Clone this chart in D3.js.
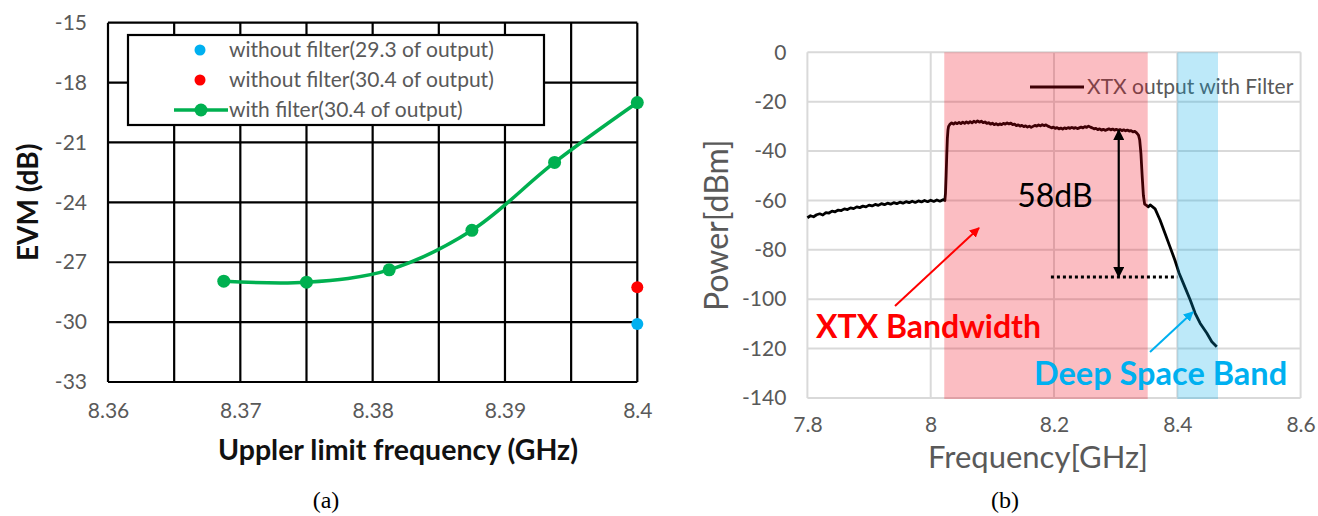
<!DOCTYPE html>
<html>
<head>
<meta charset="utf-8">
<script src="https://cdn.jsdelivr.net/npm/d3@7"></script>
<style>
  html, body { margin: 0; padding: 0; background: #fff; }
  svg { display: block; }
  text { font-family: Lato, "Open Sans", sans-serif; }
</style>
</head>
<body>
<svg id="fig" width="1318" height="516"></svg>
<script>
// ---------- (a) EVM versus upper limit frequency ----------
const evmFreq = [8.36875, 8.375, 8.38125, 8.3875, 8.39375, 8.4];
const evmWithFilter = [-27.95, -28.0, -27.38, -25.4, -22.0, -19.0];
const noFilterFreq = [8.4, 8.4];
const noFilterEvm = [-30.1, -28.25];
const noFilterColors = ["#00B0F0", "#FF0000"];
const legendA = [
  "without filter(29.3 of output)",
  "without filter(30.4 of output)",
  "with filter(30.4 of output)"
];
const ticksAx = [8.36, 8.37, 8.38, 8.39, 8.4];
const ticksAy = [-15, -18, -21, -24, -27, -30, -33];

// ---------- (b) spectrum of the XTX output ----------
const specFreq = [
  7.800, 7.805, 7.810, 7.815, 7.820, 7.825, 7.830, 7.835, 7.840, 7.845,
  7.850, 7.855, 7.860, 7.865, 7.870, 7.875, 7.880, 7.885, 7.890, 7.895,
  7.900, 7.905, 7.910, 7.915, 7.920, 7.925, 7.930, 7.935, 7.940, 7.945,
  7.950, 7.955, 7.960, 7.965, 7.970, 7.975, 7.980, 7.985, 7.990, 7.995,
  8.000, 8.005, 8.010, 8.015, 8.020, 8.023, 8.024, 8.025, 8.026, 8.027,
  8.028, 8.029, 8.031, 8.034, 8.037, 8.040, 8.043, 8.046, 8.049, 8.052,
  8.055, 8.058, 8.061, 8.064, 8.067, 8.070, 8.073, 8.076, 8.079, 8.082,
  8.085, 8.088, 8.091, 8.094, 8.097, 8.100, 8.103, 8.106, 8.109, 8.112,
  8.115, 8.118, 8.121, 8.124, 8.127, 8.130, 8.133, 8.136, 8.139, 8.142,
  8.145, 8.148, 8.151, 8.154, 8.157, 8.160, 8.163, 8.166, 8.169, 8.172,
  8.175, 8.178, 8.181, 8.184, 8.187, 8.190, 8.193, 8.196, 8.199, 8.202,
  8.205, 8.208, 8.211, 8.214, 8.217, 8.220, 8.223, 8.226, 8.229, 8.232,
  8.235, 8.238, 8.241, 8.244, 8.247, 8.250, 8.253, 8.256, 8.259, 8.262,
  8.265, 8.268, 8.271, 8.274, 8.277, 8.280, 8.283, 8.286, 8.289, 8.292,
  8.295, 8.298, 8.301, 8.304, 8.307, 8.310, 8.313, 8.316, 8.319, 8.322,
  8.325, 8.328, 8.331, 8.334, 8.337, 8.339, 8.341, 8.343, 8.345, 8.347,
  8.350, 8.353, 8.356, 8.359, 8.364, 8.372, 8.380, 8.388, 8.396, 8.403,
  8.412, 8.421, 8.429, 8.437, 8.448, 8.456, 8.464
];
const specPower = [
  -67.0, -66.2, -66.6, -65.8, -65.4, -65.9, -64.9, -65.1, -64.3, -64.6,
  -63.9, -64.1, -63.4, -63.7, -63.0, -63.3, -62.6, -62.9, -62.3, -62.6,
  -61.9, -62.2, -61.6, -62.0, -61.3, -61.7, -61.1, -61.5, -60.9, -61.3,
  -60.7, -61.1, -60.5, -60.9, -60.3, -60.8, -60.2, -60.6, -60.0, -60.5,
  -59.9, -60.4, -59.8, -60.3, -59.7, -60.0, -57.0, -50.0, -42.0, -35.0,
  -31.5, -30.0, -29.2, -28.6, -29.1, -28.5, -28.9, -28.4, -28.9, -28.3,
  -28.8, -28.2, -28.7, -28.1, -28.6, -27.9, -28.4, -27.8, -28.3, -27.9,
  -28.5, -28.2, -28.8, -28.5, -29.1, -28.7, -29.3, -28.9, -29.4, -29.0,
  -29.3, -28.8, -29.1, -28.6, -29.0, -28.7, -29.3, -29.1, -29.7, -29.4,
  -29.9, -29.6, -30.1, -29.8, -30.3, -29.9, -30.4, -30.0, -29.6, -29.9,
  -29.4, -29.8, -29.3, -29.7, -29.4, -29.9, -30.2, -30.6, -30.3, -30.8,
  -30.5, -31.0, -30.7, -31.1, -30.6, -30.9, -30.5, -30.8, -30.4, -30.8,
  -30.5, -30.9, -30.6, -30.3, -30.6, -30.1, -30.4, -29.9, -30.3, -30.6,
  -31.0, -30.8, -31.3, -31.0, -31.5, -31.2, -31.6, -31.3, -31.0, -31.4,
  -31.1, -31.5, -31.2, -31.6, -31.3, -31.7, -31.4, -31.8, -31.5, -31.9,
  -31.7, -32.2, -32.0, -32.6, -33.5, -35.5, -41.0, -50.0, -58.0, -61.5,
  -62.0, -62.6, -61.8, -62.4, -63.4, -67.9, -73.3, -78.7, -84.1, -89.5,
  -94.9, -100.3, -105.7, -109.7, -113.8, -117.2, -119.2
];
const bandXtx = [8.022, 8.352];
const bandDeepSpace = [8.4, 8.466];
const marker58 = { freq: 8.305, top: -31.5, bottom: -91.0, label: "58dB" };
const floorLine = [8.195, 8.40];
const ticksBx = [7.8, 8.0, 8.2, 8.4, 8.6];
const ticksBy = [0, -20, -40, -60, -80, -100, -120, -140];

const svg = d3.select("#fig");
svg.append("rect").attr("width", 1318).attr("height", 516).attr("fill", "#fff");

const TICK_FONT = "21px";

// ================= panel (a) =================
const xa = d3.scaleLinear().domain([8.36, 8.40]).range([108, 637.3]);
const ya = d3.scaleLinear().domain([-33, -15]).range([382, 22.7]);
const ga = svg.append("g");

// black grid every 0.005 GHz and 3 dB
ga.append("g").selectAll("line").data(d3.range(0, 9).map(i => 8.36 + i * 0.005))
  .join("line")
  .attr("x1", d => xa(d)).attr("x2", d => xa(d))
  .attr("y1", ya(-15)).attr("y2", ya(-33))
  .attr("stroke", "#000").attr("stroke-width", 2.2);
ga.append("g").selectAll("line").data(ticksAy)
  .join("line")
  .attr("x1", xa(8.36)).attr("x2", xa(8.40))
  .attr("y1", d => ya(d)).attr("y2", d => ya(d))
  .attr("stroke", "#000").attr("stroke-width", 2.2);

// axes (labels only)
const axAy = ga.append("g").attr("transform", `translate(${xa(8.36) - 18},0)`)
  .call(d3.axisLeft(ya).tickValues(ticksAy).tickSize(0).tickFormat(d => String(d)));
const axAx = ga.append("g").attr("transform", `translate(0,${ya(-33) + 18})`)
  .call(d3.axisBottom(xa).tickValues(ticksAx).tickSize(0).tickFormat(d => String(+d.toFixed(2))));
[axAy, axAx].forEach(a => {
  a.select(".domain").remove();
  a.selectAll("text").attr("fill", "#595959").style("font-size", TICK_FONT).style("font-family", "Lato, sans-serif");
});

// smoothed with-filter curve and its markers
const lineA = d3.line().x(d => xa(d[0])).y(d => ya(d[1])).curve(d3.curveCatmullRom.alpha(0.5));
const ptsA = evmFreq.map((f, i) => [f, evmWithFilter[i]]);
ga.append("path").datum(ptsA).attr("d", lineA)
  .attr("fill", "none").attr("stroke", "#00B050").attr("stroke-width", 3.5);
ga.append("g").selectAll("circle").data(ptsA).join("circle")
  .attr("cx", d => xa(d[0])).attr("cy", d => ya(d[1])).attr("r", 6.5).attr("fill", "#00B050");
ga.append("g").selectAll("circle").data(noFilterFreq.map((f, i) => [f, noFilterEvm[i], noFilterColors[i]]))
  .join("circle")
  .attr("cx", d => xa(d[0])).attr("cy", d => ya(d[1])).attr("r", 6).attr("fill", d => d[2]);

// legend
const lg = ga.append("g");
lg.append("rect").attr("x", 128).attr("y", 35).attr("width", 416).attr("height", 90)
  .attr("fill", "#fff").attr("stroke", "#000").attr("stroke-width", 2.2);
const legRows = [50, 80, 110];
lg.append("circle").attr("cx", 200).attr("cy", legRows[0]).attr("r", 5.5).attr("fill", noFilterColors[0]);
lg.append("circle").attr("cx", 200).attr("cy", legRows[1]).attr("r", 5.5).attr("fill", noFilterColors[1]);
lg.append("line").attr("x1", 174).attr("x2", 228).attr("y1", legRows[2]).attr("y2", legRows[2])
  .attr("stroke", "#00B050").attr("stroke-width", 3.5);
lg.append("circle").attr("cx", 201).attr("cy", legRows[2]).attr("r", 6.5).attr("fill", "#00B050");
lg.selectAll("text").data(legendA).join("text")
  .attr("x", 229).attr("y", (d, i) => legRows[i] + 7)
  .attr("fill", "#595959").style("font-size", "21px").text(d => d);

// axis titles
ga.append("text").attr("transform", `translate(38,${ya(-24)}) rotate(-90)`)
  .attr("text-anchor", "middle").style("font-size", "28px").style("font-weight", "700")
  .attr("fill", "#111").text("EVM (dB)");
ga.append("text").attr("x", 398).attr("y", 460).attr("text-anchor", "middle")
  .style("font-size", "28.5px").style("font-weight", "700").attr("fill", "#111")
  .text("Uppler limit frequency (GHz)");
ga.append("text").attr("x", 326).attr("y", 508).attr("text-anchor", "middle")
  .style("font-family", "'Liberation Serif', serif").style("font-size", "24px").attr("fill", "#000").text("(a)");

// ================= panel (b) =================
const xb = d3.scaleLinear().domain([7.8, 8.6]).range([807.4, 1300.6]);
const yb = d3.scaleLinear().domain([-140, 0]).range([398, 52.3]);
const gb = svg.append("g");

// light grid and frame
gb.append("g").selectAll("line").data(ticksBy).join("line")
  .attr("x1", xb(7.8)).attr("x2", xb(8.6)).attr("y1", d => yb(d)).attr("y2", d => yb(d))
  .attr("stroke", "#d9d9d9").attr("stroke-width", 2);
gb.append("g").selectAll("line").data(ticksBx).join("line")
  .attr("x1", d => xb(d)).attr("x2", d => xb(d)).attr("y1", yb(0)).attr("y2", yb(-140))
  .attr("stroke", "#d9d9d9").attr("stroke-width", 2);

const axBy = gb.append("g").attr("transform", `translate(${xb(7.8) - 18},0)`)
  .call(d3.axisLeft(yb).tickValues(ticksBy).tickSize(0).tickFormat(d => String(d)));
const axBx = gb.append("g").attr("transform", `translate(0,${yb(-140) + 16})`)
  .call(d3.axisBottom(xb).tickValues(ticksBx).tickSize(0).tickFormat(d => String(+d.toFixed(1))));
[axBy, axBx].forEach(a => {
  a.select(".domain").remove();
  a.selectAll("text").attr("fill", "#595959").style("font-size", TICK_FONT).style("font-family", "Lato, sans-serif");
});

// spectrum trace
const lineB = d3.line().x(d => xb(d[0])).y(d => yb(d[1]));
gb.append("path").datum(specFreq.map((f, i) => [f, specPower[i]])).attr("d", lineB)
  .attr("fill", "none").attr("stroke", "#000").attr("stroke-width", 2.8).attr("stroke-linejoin", "round");

// series legend
gb.append("line").attr("x1", 1030).attr("x2", 1084).attr("y1", 87).attr("y2", 87)
  .attr("stroke", "#000").attr("stroke-width", 3);
gb.append("text").attr("x", 1087).attr("y", 94).attr("fill", "#595959")
  .style("font-size", "21px").text("XTX output with Filter");

// translucent band overlays
gb.append("rect").attr("x", xb(bandXtx[0])).attr("width", xb(bandXtx[1]) - xb(bandXtx[0]))
  .attr("y", yb(0)).attr("height", yb(-140) - yb(0) + 1)
  .attr("fill", "rgb(240,0,20)").attr("fill-opacity", 0.26);
gb.append("rect").attr("x", xb(bandDeepSpace[0])).attr("width", xb(bandDeepSpace[1]) - xb(bandDeepSpace[0]))
  .attr("y", yb(0)).attr("height", yb(-140) - yb(0) + 1)
  .attr("fill", "rgb(0,170,230)").attr("fill-opacity", 0.26);

// 58 dB rejection marker
const defs = svg.append("defs");
function head(id, color) {
  defs.append("marker").attr("id", id).attr("viewBox", "0 0 10 10")
    .attr("refX", 9).attr("refY", 5).attr("markerWidth", 5).attr("markerHeight", 5)
    .attr("markerUnits", "strokeWidth").attr("orient", "auto-start-reverse")
    .append("path").attr("d", "M0,0 L10,5 L0,10 z").attr("fill", color);
}
head("hk", "#000"); head("hr", "#FF0000"); head("hb", "#00B0F0");

gb.append("line").attr("x1", xb(marker58.freq)).attr("x2", xb(marker58.freq))
  .attr("y1", yb(marker58.top)).attr("y2", yb(marker58.bottom))
  .attr("stroke", "#000").attr("stroke-width", 2.2)
  .attr("marker-start", "url(#hk)").attr("marker-end", "url(#hk)");
gb.append("line").attr("x1", xb(floorLine[0])).attr("x2", xb(floorLine[1]))
  .attr("y1", yb(marker58.bottom)).attr("y2", yb(marker58.bottom))
  .attr("stroke", "#000").attr("stroke-width", 3).attr("stroke-dasharray", "3,3");
gb.append("text").attr("x", 1055).attr("y", 207).attr("text-anchor", "middle")
  .style("font-size", "32px").attr("fill", "#000").text(marker58.label);

// band call-outs
gb.append("line").attr("x1", 895).attr("y1", 306).attr("x2", 979).attr("y2", 228)
  .attr("stroke", "#FF0000").attr("stroke-width", 2).attr("marker-end", "url(#hr)");
gb.append("text").attr("x", 816).attr("y", 338).style("font-size", "32px").style("font-weight", "700")
  .attr("fill", "#FF0000").text("XTX Bandwidth");
gb.append("line").attr("x1", 1150).attr("y1", 352).attr("x2", 1193).attr("y2", 312)
  .attr("stroke", "#00B0F0").attr("stroke-width", 2).attr("marker-end", "url(#hb)");
gb.append("text").attr("x", 1034).attr("y", 385).style("font-size", "32.5px").style("font-weight", "700")
  .attr("fill", "#00B0F0").text("Deep Space Band");

// axis titles
gb.append("text").attr("transform", `translate(728,${yb(-70)}) rotate(-90)`)
  .attr("text-anchor", "middle").style("font-size", "32px").attr("fill", "#595959").text("Power[dBm]");
gb.append("text").attr("x", 1038).attr("y", 468).attr("text-anchor", "middle")
  .style("font-size", "31px").attr("fill", "#595959").text("Frequency[GHz]");
gb.append("text").attr("x", 1005).attr("y", 508).attr("text-anchor", "middle")
  .style("font-family", "'Liberation Serif', serif").style("font-size", "24px").attr("fill", "#000").text("(b)");
</script>
</body>
</html>
